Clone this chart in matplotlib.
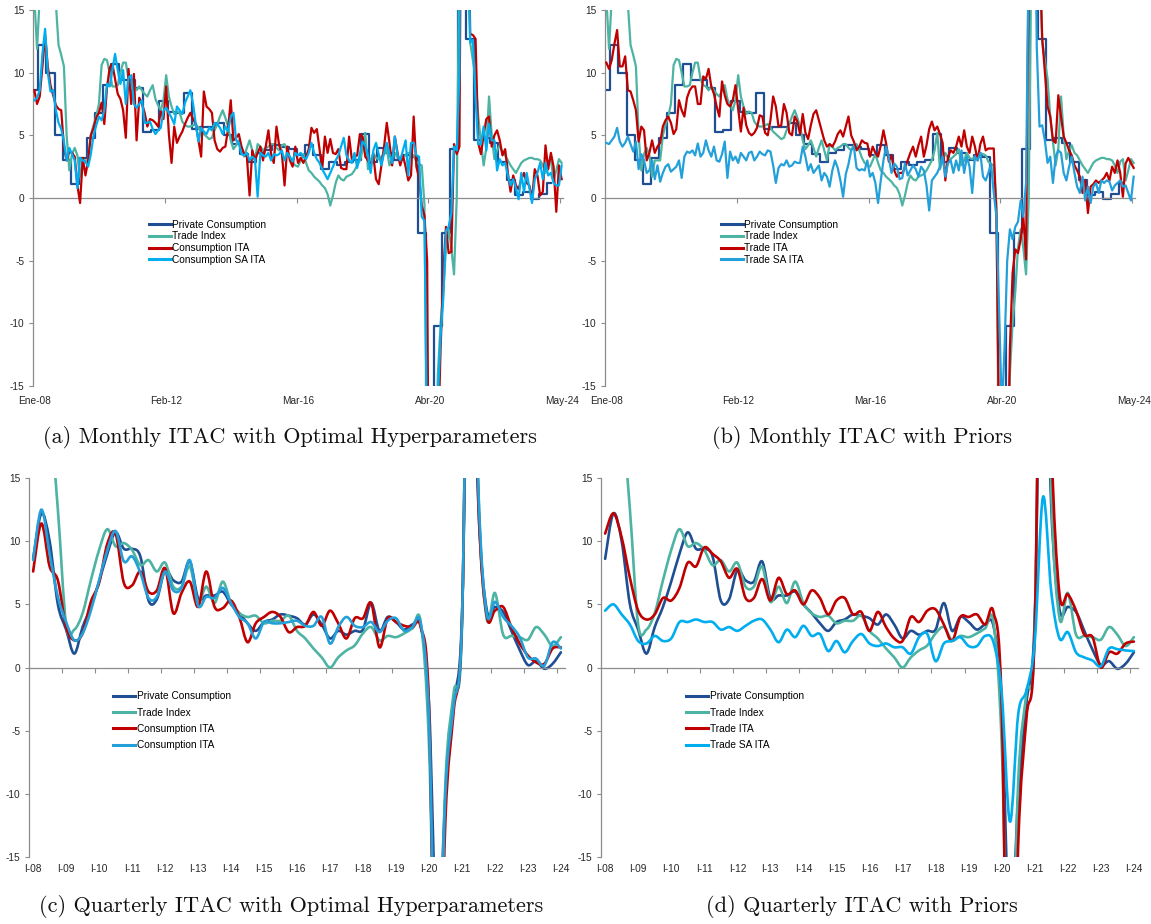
import numpy as np
import matplotlib
matplotlib.use("Agg")
import matplotlib.pyplot as plt
from matplotlib.path import Path
from matplotlib.patches import PathPatch
from matplotlib.lines import Line2D

plt.rcParams["axes.unicode_minus"] = False
plt.rcParams["font.family"] = ["Liberation Sans", "DejaVu Sans"]

# ------------------------------------------------------------------ labels
month_tick_labels = ["Ene-08", "Feb-12", "Mar-16", "Abr-20", "May-24"]
quarter_tick_labels = ["I-08", "I-09", "I-10", "I-11", "I-12", "I-13", "I-14", "I-15",
                       "I-16", "I-17", "I-18", "I-19", "I-20", "I-21", "I-22", "I-23", "I-24"]

# ------------------------------------------------------------------ quarterly data (Q1-2008 .. Q1-2024)
private_consumption_q = [
    8.6, 12.2, 10.0, 5.0, 3.0, 1.1, 3.2, 4.8, 6.8, 9.0,
    10.7, 9.4, 9.4, 8.8, 5.3, 5.4, 7.7, 6.9, 6.8, 8.4,
    5.5, 5.7, 5.7, 6.0, 5.0, 4.3, 3.5, 2.9, 3.6, 3.8,
    4.2, 4.1, 3.9, 3.4, 4.2, 3.4, 2.3, 2.9, 2.6, 2.9,
    3.0, 5.1, 2.9, 4.0, 3.6, 3.0, 3.4, 3.3, -2.8, -22.0,
    -10.2, -2.8, 3.9, 35.0, 12.7, 4.6, 4.8, 4.4, 2.9, 1.4,
    0.2, 0.5, -0.1, 0.3, 1.2]
trade_index_q = [
    20.0, 22.0, 20.0, 12.5, 3.4, 3.0, 4.3, 6.9, 9.3, 10.95,
    9.6, 9.85, 9.3, 8.1, 8.5, 7.6, 8.3, 6.4, 6.4, 8.0,
    5.2, 6.4, 5.1, 6.8, 5.1, 4.3, 4.0, 4.1, 3.5, 3.7,
    3.7, 4.1, 2.9, 2.3, 1.5, 0.8, 0.0, 0.8, 1.35, 1.75,
    2.7, 3.2, 2.15, 2.5, 2.4, 2.7, 3.1, 3.6, -6.0, -30.0,
    -9.0, -2.0, 3.0, 45.0, 14.0, 3.9, 5.9, 2.6, 2.5, 2.4,
    2.2, 3.2, 2.6, 1.7, 2.4]
consumption_ita_q = [
    7.6, 11.4, 8.0, 6.9, 3.2, 2.15, 2.7, 5.2, 6.7, 9.8,
    10.6, 6.7, 6.5, 7.6, 6.0, 6.1, 7.85, 4.3, 5.9, 6.8,
    4.8, 7.6, 4.8, 4.7, 5.3, 4.0, 2.0, 3.5, 4.0, 4.4,
    4.0, 2.8, 3.2, 3.3, 4.4, 3.3, 4.5, 3.5, 2.3, 3.9,
    3.9, 5.1, 1.6, 3.9, 3.6, 3.3, 3.2, 3.2, -3.0, -35.0,
    -12.0, -3.5, 3.5, 40.0, 13.0, 4.1, 4.5, 4.8, 3.2, 1.9,
    0.95, 0.4, 0.3, 1.5, 1.6]
consumption_ita2_q = [
    8.5, 12.5, 9.0, 5.6, 3.6, 2.15, 2.7, 4.5, 6.9, 9.3,
    10.8, 8.4, 8.8, 7.5, 5.5, 5.6, 7.6, 6.1, 6.3, 8.5,
    4.9, 5.6, 5.5, 6.3, 5.1, 4.0, 3.5, 2.3, 3.6, 3.5,
    3.5, 3.6, 3.7, 3.3, 3.3, 4.0, 1.9, 3.2, 4.0, 3.3,
    3.2, 3.6, 2.8, 3.7, 3.9, 2.9, 3.2, 3.5, -4.0, -30.0,
    -10.0, -3.0, 3.5, 40.0, 14.0, 4.3, 5.2, 4.0, 3.3, 2.4,
    0.8, 0.7, 0.15, 2.0, 1.5]
trade_ita_q = [
    10.6, 12.2, 10.3, 7.1, 4.5, 3.8, 4.2, 5.5, 5.3, 6.3,
    8.3, 8.0, 9.5, 9.0, 8.4, 7.1, 7.8, 5.5, 5.5, 7.0,
    5.3, 7.1, 5.8, 6.1, 5.0, 6.1, 5.5, 4.2, 5.3, 5.5,
    4.2, 4.4, 2.9, 4.4, 3.2, 2.3, 2.1, 4.0, 3.6, 4.5,
    4.6, 3.4, 2.1, 4.0, 4.0, 4.2, 3.4, 4.4, -3.0, -40.0,
    -14.0, -4.0, 3.0, 45.0, 18.0, 5.8, 5.8, 4.5, 2.6, 2.4,
    0.0, 1.2, 1.1, 1.9, 2.05]
trade_sa_ita_q = [
    4.5, 5.0, 4.2, 3.4, 2.1, 1.9, 2.5, 2.1, 2.3, 3.6,
    3.6, 3.8, 3.6, 3.6, 3.0, 3.2, 2.9, 3.3, 3.7, 3.8,
    3.0, 2.0, 3.0, 2.4, 3.3, 2.5, 2.65, 1.3, 2.1, 1.2,
    2.1, 2.65, 1.9, 1.7, 1.9, 1.6, 1.6, 1.1, 2.4, 2.65,
    0.5, 1.9, 2.1, 2.4, 1.7, 1.7, 2.5, 2.0, -2.0, -12.2,
    -3.7, -1.8, 2.0, 13.5, 6.0, 2.3, 2.8, 1.2, 0.8, 0.55,
    0.1, 1.5, 1.45, 1.35, 1.3]

# ------------------------------------------------------------------ monthly data (Jan-2008 .. May-2024)
trade_index_m = [
    16.0, 11.9, 16.0, 17.0, 17.0, 17.0, 16.5, 16.0, 15.5, 12.2,
    11.4, 10.5, 5.0, 2.2, 3.5, 4.0, 3.4, 1.7, 3.0, 3.0,
    3.0, 5.0, 5.8, 6.5, 7.5, 10.6, 11.1, 11.0, 10.0, 8.9,
    8.9, 9.0, 10.0, 10.8, 10.8, 9.5, 9.0, 8.9, 8.6, 8.9,
    8.6, 8.3, 8.1, 8.6, 9.0, 7.9, 7.4, 7.0, 7.8, 9.8,
    8.1, 7.3, 6.7, 6.9, 6.8, 6.1, 5.8, 5.7, 5.7, 5.8,
    5.9, 5.6, 5.3, 5.1, 4.9, 4.7, 4.8, 5.4, 5.9, 6.5,
    7.0, 6.4, 5.7, 4.6, 3.9, 4.2, 4.6, 4.0, 3.3, 4.0,
    4.6, 3.8, 3.0, 4.3, 4.1, 3.8, 4.0, 4.1, 4.3, 4.3,
    4.0, 3.8, 4.2, 4.3, 3.8, 3.2, 2.8, 2.6, 2.5, 3.0,
    3.5, 2.8, 2.2, 2.0, 1.7, 1.5, 1.3, 1.0, 0.8, 0.3,
    -0.6, 0.2, 1.2, 1.8, 1.5, 1.4, 1.7, 1.8, 1.9, 2.2,
    2.6, 3.0, 3.8, 5.2, 2.3, 3.0, 3.6, 3.2, 3.1, 3.3,
    3.5, 3.9, 2.6, 3.0, 3.6, 3.2, 3.1, 3.3, 3.4, 3.6,
    3.5, 3.4, 2.9, 2.7, 2.6, -0.5, -22.0, -45.0, -38.0, -22.0,
    -14.0, -10.0, -7.5, -4.0, -2.5, -4.0, -6.1, 0.0, 20.0, 60.0,
    40.0, 20.0, 12.4, 11.0, 9.5, 6.5, 4.5, 2.6, 4.0, 8.1,
    5.0, 3.1, 3.8, 4.2, 3.6, 3.4, 3.0, 2.6, 2.3, 2.0,
    2.4, 2.8, 3.0, 3.1, 3.2, 3.2, 3.1, 3.1, 3.0, 2.6,
    2.0, 2.9, 3.1, 1.4, 2.2, 3.1, 2.8]
consumption_ita_m = [
    8.6, 7.5, 8.1, 10.5, 13.0, 10.5, 9.0, 8.2, 7.4, 7.1,
    7.0, 4.0, 3.0, 3.7, 3.6, 3.3, 1.0, -0.4, 3.2, 1.8,
    3.0, 5.0, 5.6, 6.4, 6.8, 7.6, 5.9, 8.8, 10.4, 10.7,
    9.5, 8.3, 7.9, 7.0, 4.8, 10.3, 7.5, 9.9, 4.6, 8.0,
    7.5, 6.8, 5.7, 6.3, 6.2, 6.0, 5.7, 6.9, 6.3, 8.9,
    5.1, 2.8, 5.7, 4.4, 4.9, 5.3, 5.9, 6.4, 6.8, 6.3,
    5.9, 4.6, 3.3, 8.5, 7.3, 7.1, 6.8, 4.6, 3.9, 3.7,
    4.0, 4.1, 5.5, 7.8, 4.6, 4.8, 5.1, 4.1, 3.5, 3.3,
    0.2, 3.8, 3.0, 3.6, 4.1, 3.0, 4.1, 5.4, 3.5, 2.8,
    5.7, 4.2, 3.6, 1.0, 4.1, 3.0, 2.5, 4.1, 2.8, 3.2,
    2.8, 3.3, 3.9, 5.6, 5.2, 5.5, 3.9, 2.3, 4.9, 3.6,
    4.7, 3.6, 3.5, 3.9, 2.4, 2.3, 2.3, 4.9, 3.1, 3.3,
    3.4, 5.1, 4.9, 3.3, 3.0, 2.6, 3.4, 1.5, 1.1, 2.6,
    4.1, 6.0, 4.4, 2.6, 4.9, 3.6, 2.6, 3.4, 2.5, 1.4,
    1.8, 6.5, 2.5, 1.6, -0.6, -1.4, -5.0, -40.0, -45.0, -30.0,
    -20.0, -12.0, -6.0, -2.3, -4.4, -4.3, 4.3, 3.5, 4.1, 40.0,
    60.0, 30.0, 13.1, 13.0, 12.7, 4.4, 3.5, 5.0, 6.3, 6.5,
    4.1, 5.0, 5.4, 4.6, 3.4, 3.9, 2.0, 0.5, 1.8, 1.0,
    0.7, 1.5, 2.0, 1.2, 1.0, -0.1, 2.3, 1.8, 0.2, 0.5,
    4.2, 2.3, 3.6, 2.5, -1.1, 2.6, 1.5]
consumption_sa_ita_m = [
    7.8, 8.0, 8.6, 11.5, 13.5, 10.0, 8.5, 8.6, 7.0, 6.0,
    5.5, 4.5, 3.0, 4.0, 3.5, 3.0, 0.8, 3.2, 3.0, 2.9,
    2.5, 3.5, 5.0, 5.8, 6.5, 6.2, 7.0, 9.1, 8.9, 10.2,
    11.5, 10.2, 9.1, 10.2, 7.5, 9.6, 9.8, 7.5, 7.2, 7.5,
    7.8, 6.0, 6.0, 6.1, 5.5, 5.1, 5.4, 5.6, 7.0, 7.2,
    6.8, 6.4, 5.9, 7.3, 7.0, 6.7, 7.6, 8.1, 8.6, 7.5,
    5.9, 4.5, 5.6, 5.3, 5.1, 5.6, 5.4, 6.0, 5.9, 5.6,
    5.1, 5.7, 5.3, 6.5, 6.8, 4.6, 4.4, 3.5, 3.4, 3.6,
    3.0, 3.3, 3.1, 0.1, 3.6, 3.4, 3.3, 3.6, 3.0, 3.5,
    3.4, 3.5, 3.8, 3.0, 3.6, 3.3, 2.9, 3.6, 3.4, 3.6,
    3.3, 3.1, 3.6, 4.4, 3.6, 3.1, 2.8, 2.3, 1.9, 1.5,
    2.0, 2.5, 3.0, 3.4, 4.1, 4.8, 3.4, 3.0, 2.8, 3.6,
    2.4, 3.5, 4.5, 4.2, 3.4, 2.0, 3.8, 4.4, 3.5, 2.6,
    3.6, 4.4, 3.5, 2.8, 4.9, 3.4, 3.0, 3.8, 4.6, 1.8,
    4.4, 4.4, 3.4, 3.3, -1.5, -1.8, -20.0, -50.0, -45.0, -30.0,
    -16.0, -11.0, -8.0, -2.6, -2.3, -1.2, 4.1, 3.8, 10.0, 50.0,
    60.0, 25.0, 12.4, 12.6, 8.0, 4.3, 4.3, 5.7, 3.8, 5.9,
    4.6, 4.6, 2.2, 3.1, 2.6, 2.8, 1.8, 1.0, 1.5, 0.8,
    -0.1, 2.0, 0.5, 2.0, 0.8, -0.4, 1.5, 2.0, 2.8, 1.5,
    2.8, 1.8, 2.0, 1.2, 1.0, 1.0, 2.6]
trade_ita_m = [
    10.8, 10.3, 11.0, 12.3, 13.4, 10.5, 10.5, 11.3, 8.6, 8.5,
    7.8, 7.0, 4.5, 5.7, 5.4, 3.0, 3.6, 4.6, 3.6, 4.1,
    4.4, 5.7, 6.2, 6.5, 6.0, 5.1, 5.5, 7.8, 7.0, 6.5,
    8.0, 8.6, 8.9, 8.9, 7.5, 7.5, 9.7, 9.5, 10.3, 8.9,
    8.3, 7.3, 6.5, 9.3, 8.2, 7.5, 7.3, 7.8, 9.0, 7.1,
    5.3, 7.2, 5.8, 5.2, 5.0, 5.2, 5.6, 6.6, 6.5, 5.2,
    5.0, 6.2, 8.1, 7.3, 5.7, 5.8, 7.5, 6.8, 5.2, 5.0,
    6.5, 6.1, 5.1, 6.7, 5.2, 4.7, 5.8, 6.7, 7.0, 6.2,
    5.4, 4.6, 4.1, 4.3, 4.1, 4.5, 5.1, 5.4, 4.9, 5.7,
    6.5, 5.0, 4.5, 3.8, 4.1, 4.6, 4.4, 4.35, 3.3, 4.1,
    3.6, 3.3, 4.2, 5.4, 4.35, 2.9, 3.4, 2.2, 1.7, 2.0,
    2.0, 2.4, 3.0, 3.6, 4.1, 3.3, 4.2, 4.9, 3.3, 4.2,
    5.5, 6.1, 5.4, 5.7, 5.1, 4.4, 1.4, 3.3, 3.8, 3.6,
    4.1, 4.9, 4.1, 5.4, 4.1, 3.6, 4.9, 4.1, 3.0, 4.3,
    4.9, 3.8, 3.95, 3.95, 3.95, -1.5, -20.0, -45.0, -45.0, -25.0,
    -12.0, -6.0, -4.1, -4.4, -3.3, -1.5, -4.9, 20.0, 50.0, 60.0,
    40.0, 20.0, 12.8, 10.0, 7.3, 6.5, 4.6, 4.4, 8.2, 6.5,
    4.9, 4.4, 3.8, 3.4, 2.6, 2.2, 1.7, 0.4, 1.4, -1.2,
    0.9, 1.1, 1.4, 1.2, 1.4, 1.6, 2.0, 1.4, 2.5, 2.0,
    3.0, 2.0, 0.1, 2.75, 3.2, 2.8, 2.4]
trade_sa_ita_m = [
    4.4, 4.3, 4.6, 4.9, 5.6, 4.5, 4.1, 4.4, 4.9, 4.3,
    3.7, 4.5, 2.3, 3.5, 3.0, 2.0, 2.2, 3.0, 1.5, 2.6,
    1.3, 2.0, 2.5, 2.7, 2.1, 2.3, 2.5, 3.0, 1.6, 3.3,
    3.7, 3.6, 3.8, 3.4, 4.35, 3.3, 3.6, 4.6, 3.8, 3.3,
    4.1, 3.0, 2.9, 3.5, 4.5, 1.6, 3.7, 3.0, 3.3, 2.8,
    3.6, 3.3, 3.0, 3.6, 3.7, 3.0, 3.3, 3.7, 3.5, 3.4,
    3.8, 3.7, 2.6, 1.2, 2.4, 2.7, 2.6, 3.0, 2.5, 2.6,
    2.9, 2.8, 2.8, 4.1, 3.3, 2.2, 2.7, 2.0, 2.3, 2.6,
    1.4, 2.0, 1.7, 0.9, 2.2, 3.0, 2.4, 1.4, 0.1, 1.9,
    2.7, 3.8, 4.1, 2.4, 2.2, 2.3, 2.2, 3.0, 1.7, 2.0,
    1.2, -0.4, 1.4, 3.0, 4.1, 3.2, 2.0, 2.75, 2.5, 1.5,
    1.6, 2.75, 1.8, 2.2, 2.6, 2.3, 1.7, 2.5, 2.2, 1.0,
    -1.0, 1.4, 1.7, 2.0, 2.5, 3.3, 1.7, 2.8, 3.0, 2.0,
    3.0, 2.2, 3.8, 2.0, 3.3, 2.5, 0.4, 3.3, 3.0, 3.6,
    1.7, 1.4, 2.0, 2.75, 0.4, -1.5, -9.0, -17.0, -12.0, -5.0,
    -2.5, -3.3, -2.3, -1.9, -0.2, -1.5, 1.2, 20.0, 35.0, 30.0,
    12.0, 5.7, 5.8, 4.6, 2.8, 3.3, 1.2, 3.3, 3.8, 3.6,
    2.0, 1.4, 2.5, 3.3, 2.0, 0.9, 0.4, 1.7, -0.2, 0.9,
    -0.4, 0.9, 1.2, 0.4, 1.4, 1.2, 1.4, 1.3, 0.6, 1.0,
    1.2, 1.4, 0.9, 1.0, 0.4, -0.2, 1.7]

# ------------------------------------------------------------------ styling
GRAY = "#8C8C8C"
TXT = "#262626"
C_PC = "#1F4E93"
C_TI = "#4DB3A2"
C_RED = "#C00000"
C_LB = "#00AEEF"
C_LB2 = "#23A0DA"
TICK_FS = 7.3

months = np.arange(len(trade_index_m))
quarters = np.arange(len(private_consumption_q))
pc_month_pos = quarters * 3          # quarterly value centred on its quarter in the monthly chart

W, H = 1151.0, 924.0
fig = plt.figure(figsize=(W / 100, H / 100), dpi=100)


def rect(left, top, width, height):
    return [left / W, 1 - (top + height) / H, width / W, height / H]


def bezier_path(xs, ys):
    pts = np.column_stack([xs, ys]).astype(float)
    n = len(pts)
    verts = [pts[0]]
    codes = [Path.MOVETO]
    for i in range(n - 1):
        p0 = pts[i - 1] if i > 0 else pts[i]
        p1 = pts[i]
        p2 = pts[i + 1]
        p3 = pts[i + 2] if i + 2 < n else pts[i + 1]
        verts += [p1 + (p2 - p0) / 6.0, p2 - (p3 - p1) / 6.0, p2]
        codes += [Path.CURVE4] * 3
    return Path(verts, codes)


def style(ax, xlim, tick_marks, label_pos, labels, label_pad):
    ax.set_xlim(*xlim)
    ax.set_ylim(-15, 15)
    ax.set_yticks([-15, -10, -5, 0, 5, 10, 15])
    ax.patch.set_visible(False)
    ax.spines["top"].set_visible(False)
    ax.spines["right"].set_visible(False)
    ax.spines["left"].set_color(GRAY)
    ax.spines["left"].set_linewidth(0.9)
    ax.spines["bottom"].set_position(("data", 0))
    ax.spines["bottom"].set_color(GRAY)
    ax.spines["bottom"].set_linewidth(0.9)
    ax.set_xticks(tick_marks)
    ax.tick_params(axis="x", direction="out", length=3.5, width=0.8, color=GRAY, labelbottom=False)
    ax.tick_params(axis="y", direction="out", length=3, width=0.8, color=GRAY,
                   labelsize=TICK_FS, labelcolor=TXT, pad=3)
    sec = ax.secondary_xaxis(0.0)
    sec.set_xticks(label_pos, labels)
    sec.tick_params(length=0, pad=label_pad, labelsize=TICK_FS, labelcolor=TXT)
    for s in sec.spines.values():
        s.set_visible(False)


def legend(ax, names, colors, anchor, spacing):
    handles = [Line2D([], [], color=c, lw=2.2) for c in colors]
    ax.legend(handles, names, loc="upper left", bbox_to_anchor=anchor, frameon=False,
              prop={"size": TICK_FS}, handlelength=2.2, handletextpad=0.15,
              labelspacing=spacing, borderpad=0, borderaxespad=0)


month_ticks = [48.5, 97.5, 146.5, 195.5]
month_label_pos = [0, 49, 98, 147, 196]
quarter_ticks = [4 * k - 0.5 for k in range(1, 17)]
quarter_label_pos = list(range(0, 65, 4))

# ---------------- (a)
ax = fig.add_axes(rect(33, 10, 530, 376))
style(ax, (-0.5, 196.5), month_ticks, month_label_pos, month_tick_labels, 7)
LWm = 1.6
ax.plot(pc_month_pos, private_consumption_q, drawstyle="steps-mid", color=C_PC, lw=LWm, zorder=2)
ax.plot(months, trade_index_m, color=C_TI, lw=LWm, zorder=3)
ax.plot(months, consumption_ita_m, color=C_RED, lw=LWm, zorder=4)
ax.plot(months, consumption_sa_ita_m, color=C_LB, lw=LWm, zorder=5)
legend(ax, ["Private Consumption", "Trade Index", "Consumption ITA", "Consumption SA ITA"],
       [C_PC, C_TI, C_RED, C_LB], (0.218, 0.442), 0.16)

# ---------------- (b)
ax = fig.add_axes(rect(605, 10, 530, 376))
style(ax, (-0.5, 196.5), month_ticks, month_label_pos, month_tick_labels, 7)
ax.plot(pc_month_pos, private_consumption_q, drawstyle="steps-mid", color=C_PC, lw=LWm, zorder=2)
ax.plot(months, trade_index_m, color=C_TI, lw=LWm, zorder=3)
ax.plot(months, trade_ita_m, color=C_RED, lw=LWm, zorder=4)
ax.plot(months, trade_sa_ita_m, color=C_LB2, lw=LWm, zorder=5)
legend(ax, ["Private Consumption", "Trade Index", "Trade ITA", "Trade SA ITA"],
       [C_PC, C_TI, C_RED, C_LB2], (0.218, 0.442), 0.16)

# ---------------- (c)
LWq = 1.9
ax = fig.add_axes(rect(29, 478, 536, 379))
style(ax, (-0.5, 64.5), quarter_ticks, quarter_label_pos, quarter_tick_labels, 5)
for ys, c, z in [(private_consumption_q, C_PC, 2), (trade_index_q, C_TI, 3),
                 (consumption_ita_q, C_RED, 4), (consumption_ita2_q, C_LB2, 5)]:
    ax.add_patch(PathPatch(bezier_path(quarters, ys), fill=False, edgecolor=c, lw=LWq,
                           zorder=z, capstyle="round", joinstyle="round"))
legend(ax, ["Private Consumption", "Trade Index", "Consumption ITA", "Consumption ITA"],
       [C_PC, C_TI, C_RED, C_LB2], (0.157, 0.437), 0.62)

# ---------------- (d)
ax = fig.add_axes(rect(601, 478, 537, 379))
style(ax, (-0.5, 64.5), quarter_ticks, quarter_label_pos, quarter_tick_labels, 5)
for ys, c, z in [(private_consumption_q, C_PC, 2), (trade_index_q, C_TI, 3),
                 (trade_ita_q, C_RED, 4), (trade_sa_ita_q, C_LB, 5)]:
    ax.add_patch(PathPatch(bezier_path(quarters, ys), fill=False, edgecolor=c, lw=LWq,
                           zorder=z, capstyle="round", joinstyle="round"))
legend(ax, ["Private Consumption", "Trade Index", "Trade ITA", "Trade SA ITA"],
       [C_PC, C_TI, C_RED, C_LB], (0.158, 0.437), 0.62)

# ---------------- captions
cap = dict(ha="center", va="center", fontsize=16, family="cmr10", color="#111111")
fig.text(290 / W, 1 - 437 / H, "(a) Monthly ITAC with Optimal Hyperparameters", **cap)
fig.text(862 / W, 1 - 437 / H, "(b) Monthly ITAC with Priors", **cap)
fig.text(291 / W, 1 - 907 / H, "(c) Quarterly ITAC with Optimal Hyperparameters", **cap)
fig.text(862 / W, 1 - 907 / H, "(d) Quarterly ITAC with Priors", **cap)

fig.savefig("out.png", dpi=100)
